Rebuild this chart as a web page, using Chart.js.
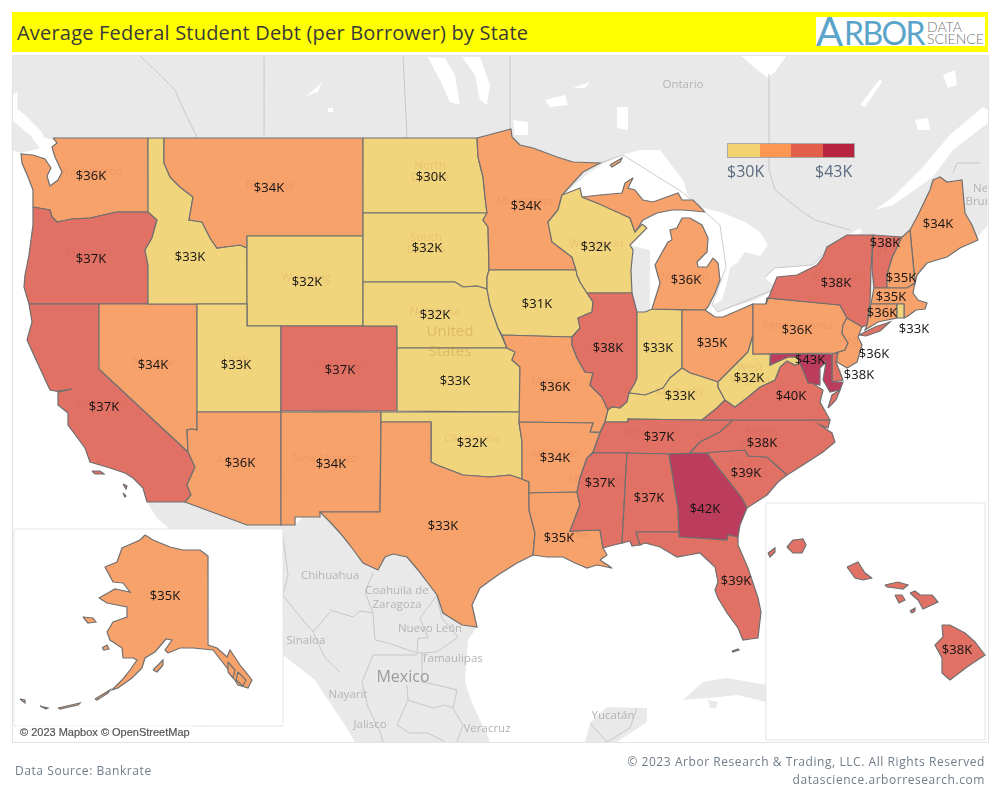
<!DOCTYPE html>
<html>
<head>
<meta charset="utf-8">
<title>Average Federal Student Debt (per Borrower) by State</title>
<script src="https://cdn.jsdelivr.net/npm/chart.js@4/dist/chart.umd.min.js"></script>
<style>
  html, body { margin: 0; padding: 0; background: #fff; }
  #page { position: relative; width: 1000px; height: 800px; overflow: hidden; font-family: "Open Sans", sans-serif; }
  #page div, #page span { position: absolute; white-space: nowrap; }
  #map { position: absolute; left: 0; top: 0; width: 1000px; height: 800px; }
  #titleBar { left: 12px; top: 12px; width: 976px; height: 40px; background: #ffff00; }
  #title { left: 17px; top: 19px; font-size: 20px; line-height: 28px; color: #3a3a3a; letter-spacing: 0.2px; }
  #logo { left: 816px; top: 17px; width: 169px; height: 29px; background: #fff; overflow: hidden; font-family: Lato, sans-serif; }
  #frame { left: 12px; top: 55px; width: 975px; height: 686px; border: 1px solid #e4e4e4; }
  #legend { left: 727px; top: 143px; width: 126px; height: 13px; border: 1px solid #a9a9a9; }
  .legendText { top: 160px; font-size: 16px; line-height: 22px; color: #5d6c80; }
  #attribution { left: 16px; top: 725px; width: 177px; height: 15px; background: rgba(255,255,255,0.6); font: 11px/15px "Liberation Sans", sans-serif; color: #555; text-indent: 4px; -webkit-text-stroke: 0.2px #555; }
  .foot { font-size: 12px; line-height: 18px; color: #6f7c89; letter-spacing: 0.56px; }
</style>
</head>
<body>
<div id="page">
  <canvas id="map" width="1000" height="800"></canvas>
  <div id="titleBar"></div>
  <div id="title">Average Federal Student Debt (per Borrower) by State</div>
  <div id="logo">
    <span style="left:0px;top:-9px;font-size:40px;line-height:46px;color:#5ba4c9">A</span>
    <span style="left:28px;top:-3px;font-size:32px;line-height:38px;color:#5ba4c9;letter-spacing:-1.6px">RBOR</span>
    <span style="left:111px;top:3px;font-size:14px;line-height:13px;color:#777;font-weight:300">DATA</span>
    <span style="left:111px;top:15px;font-size:14px;line-height:13px;color:#777;font-weight:300">SCIENCE</span>
  </div>
  <div id="frame"></div>
  <div id="legend"></div>
  <div class="legendText" id="legendMin" style="left:727px"></div>
  <div class="legendText" id="legendMax" style="left:815px"></div>
  <div id="attribution">© 2023 Mapbox © OpenStreetMap</div>
  <div class="foot" style="left:15px;top:762px">Data Source: Bankrate</div>
  <div class="foot" style="right:15px;top:753px">© 2023 Arbor Research &amp; Trading, LLC. All Rights Reserved</div>
  <div class="foot" style="right:15px;top:771px">datascience.arborresearch.com</div>
</div>

<script>
// Debt per borrower
var stateNames = ["WA","OR","CA","NV","ID","MT","WY","UT","AZ","CO","NM","ND","SD","NE","KS","OK","TX","MN","IA","MO","AR","LA","WI","IL","IN","MI","OH","KY","TN","MS","AL","GA","FL","SC","NC","VA","WV","PA","NY","ME","VT","NH","MA","CT","RI","NJ","DE","MD","HI","AK"];
var stateDebt = [36000,37000,37000,34000,33000,34000,32000,33000,36000,37000,34000,30000,32000,32000,33000,32000,33400,34000,31000,36000,34000,35000,32000,38000,33000,36000,35000,33000,37000,37000,37000,42000,39000,39000,38000,39600,32000,36000,38000,34000,38000,35000,35000,36000,33000,36000,38000,43000,38000,35000];
var labelX = [91,91,104,153,190,269,307,236,240,340,331,431,427,435,455,472,443,526,537,555,555,559,596,608,658,686,712,680,659,600,649,705,736,746,762,791,749,797,836,938,885,901,891,882,914,874,859,810,957,165];
var labelY = [176,259,407,365,257,188,282,365,463,370,464,177,248,315,381,443,526,206,304,387,458,538,247,348,348,280,343,396,437,483,498,509,581,473,443,396,378,330,283,224,243,278,297,313,329,354,375,360,650,596];

// Colour steps, same as the legend range
var debtMin = 30000;
var debtMax = 43000;
var stepFill = ["#F1D57D","#F8A26B","#E17164","#BC3C5D"];
var legendFill = ["#F3D270","#FB9653","#E25F4B","#B8233F"];

// Outlines in map units (the map is 1000 x 800 units)
var outlines = {
  WA: [[[53,138],[148,138],[148,212],[117,212],[90,218],[72,219],[57,222],[52,217],[50,210],[33,207],[33,190],[28,177],[22,163],[21,154],[33,155],[45,159],[51,168],[47,176],[50,186],[58,180],[62,172],[55,157],[52,147],[57,143]]],
  OR: [[[33,207],[50,210],[52,217],[57,222],[72,219],[90,218],[117,212],[148,212],[157,220],[152,238],[145,250],[148,265],[148,304],[29,304],[24,287],[25,275],[29,255],[33,225]]],
  CA: [[[29,304],[99,304],[99,369],[188,452],[195,467],[187,485],[191,495],[185,502],[147,502],[143,488],[133,478],[125,473],[110,468],[90,462],[85,448],[68,425],[68,413],[58,405],[58,391],[72,389],[60,392],[50,390],[37,362],[27,340],[32,322]],[[92,471],[100,471],[104,474],[95,474]],[[123,484],[127,486],[126,489]],[[123,493],[126,496],[125,497]]],
  NV: [[[99,304],[197,304],[197,430],[192,429],[187,430],[188,452],[99,369]]],
  ID: [[[148,138],[164,138],[164,163],[170,177],[180,187],[193,197],[189,220],[202,222],[210,238],[217,248],[240,245],[247,248],[247,304],[148,304],[148,265],[145,250],[152,238],[157,220],[148,212]]],
  MT: [[[164,138],[363,138],[363,236],[247,236],[247,248],[240,245],[217,248],[210,238],[202,222],[189,220],[193,197],[180,187],[170,177],[164,163]]],
  WY: [[[247,236],[363,236],[363,326],[247,326]]],
  UT: [[[197,304],[247,304],[247,326],[281,326],[281,412],[197,412]]],
  AZ: [[[197,412],[281,412],[281,525],[247,525],[185,502],[191,495],[187,485],[195,467],[188,452],[187,430],[192,429],[197,430]]],
  CO: [[[281,326],[397,326],[397,411],[281,411]]],
  NM: [[[281,412],[381,412],[381,422],[380,512],[320,512],[320,517],[295,517],[295,525],[281,525]]],
  ND: [[[363,138],[477,138],[478,157],[483,177],[485,197],[487,213],[363,213]]],
  SD: [[[363,213],[487,213],[483,220],[488,227],[489,270],[487,277],[487,289],[477,286],[463,287],[455,282],[363,282]]],
  NE: [[[363,282],[455,282],[463,287],[477,286],[487,289],[490,305],[498,328],[507,348],[397,348],[397,326],[363,326]]],
  KS: [[[397,348],[507,348],[515,352],[512,360],[520,367],[520,412],[397,411]]],
  OK: [[[381,412],[520,412],[519,422],[522,442],[522,479],[510,475],[490,477],[463,475],[437,465],[431,462],[431,422],[381,422]]],
  TX: [[[381,422],[431,422],[431,462],[437,465],[463,475],[490,477],[510,475],[522,479],[529,482],[529,510],[535,533],[533,555],[517,563],[498,575],[480,588],[472,605],[477,627],[462,625],[443,613],[437,595],[418,570],[407,557],[393,554],[385,557],[378,570],[363,563],[352,548],[340,533],[330,522],[320,512],[380,512]]],
  MN: [[[477,138],[511,129],[512,137],[520,145],[533,148],[557,157],[573,162],[600,163],[583,172],[562,195],[558,210],[548,222],[552,242],[572,257],[576,270],[489,270],[488,227],[483,220],[487,213],[485,197],[483,177],[478,157]]],
  IA: [[[489,270],[576,270],[577,275],[580,282],[587,293],[593,302],[592,312],[578,318],[580,328],[572,337],[502,335],[498,328],[490,305],[487,289],[487,277]]],
  MO: [[[502,335],[572,337],[572,345],[577,358],[585,372],[593,373],[590,385],[602,397],[608,410],[605,422],[600,432],[590,432],[593,423],[519,422],[520,367],[512,360],[515,352],[507,348]]],
  AR: [[[519,422],[593,423],[590,432],[600,433],[593,452],[587,458],[580,478],[577,492],[529,493],[529,482],[522,479],[522,442]]],
  LA: [[[529,493],[577,492],[580,505],[570,531],[600,530],[603,548],[607,555],[600,560],[612,568],[597,565],[587,568],[575,563],[563,557],[547,557],[533,555],[535,533],[529,510]]],
  WI: [[[562,195],[580,188],[582,197],[597,203],[620,212],[630,218],[635,232],[642,224],[647,228],[630,245],[633,250],[631,270],[632,293],[587,293],[580,282],[577,275],[576,270],[572,257],[552,242],[548,222],[558,210]]],
  IL: [[[587,293],[632,293],[637,312],[637,378],[635,383],[629,393],[627,402],[620,408],[612,407],[608,410],[602,397],[590,385],[593,373],[585,372],[577,358],[572,345],[572,337],[580,328],[578,318],[592,312],[593,302]]],
  IN: [[[637,312],[645,312],[652,309],[682,310],[682,368],[670,378],[663,388],[653,392],[645,395],[629,393],[635,383],[637,378]]],
  MI: [[[652,309],[705,310],[708,307],[715,293],[720,280],[718,263],[713,258],[707,267],[698,267],[697,262],[707,252],[708,238],[702,225],[690,218],[682,218],[677,228],[670,230],[672,240],[668,242],[655,265],[660,283]],[[582,197],[600,195],[622,193],[625,183],[633,178],[628,188],[635,190],[643,200],[653,202],[678,193],[682,200],[693,200],[705,212],[683,210],[672,210],[657,213],[643,220],[635,232],[630,218],[597,203]],[[610,165],[622,158],[620,162],[612,167]]],
  OH: [[[682,310],[705,310],[715,317],[723,317],[753,304],[753,335],[748,352],[732,368],[718,382],[703,377],[690,373],[682,368]]],
  KY: [[[608,410],[612,407],[620,408],[627,402],[629,393],[645,395],[653,392],[663,388],[670,378],[682,368],[690,373],[703,377],[718,382],[718,387],[725,400],[717,408],[702,420],[628,419],[628,422],[605,422]]],
  TN: [[[605,422],[628,422],[628,419],[702,420],[733,420],[733,423],[720,432],[700,442],[690,453],[669,454],[627,453],[593,453],[600,433]]],
  MS: [[[593,453],[627,453],[622,543],[610,546],[603,548],[600,530],[570,531],[580,505],[577,492],[580,478],[587,458]]],
  AL: [[[627,453],[669,454],[678,508],[679,532],[636,532],[640,545],[632,546],[630,541],[622,543]]],
  GA: [[[669,454],[707,453],[720,470],[732,485],[742,498],[747,508],[740,525],[738,537],[728,535],[727,540],[679,537],[678,508]]],
  FL: [[[636,532],[679,532],[679,537],[727,540],[728,535],[738,537],[738,545],[748,568],[758,598],[761,612],[758,638],[743,640],[738,628],[727,613],[718,598],[715,590],[718,582],[715,567],[700,553],[677,557],[660,547],[645,543],[640,545]],[[732,651],[738,649],[739,650],[733,652]]],
  SC: [[[707,453],[713,452],[745,450],[748,456],[767,457],[787,475],[778,482],[767,495],[747,508],[742,498],[732,485],[720,470]]],
  NC: [[[733,420],[830,420],[828,428],[820,425],[832,433],[835,442],[823,452],[803,465],[787,475],[767,457],[748,456],[745,450],[713,452],[705,453],[690,453],[700,442],[720,432]]],
  VA: [[[795,365],[800,363],[803,370],[817,378],[815,385],[823,390],[820,402],[830,420],[702,420],[717,408],[725,400],[735,407],[748,397],[760,387],[775,380],[780,367],[787,361]],[[828,408],[832,395],[840,390],[836,400]]],
  WV: [[[753,335],[753,354],[770,354],[770,365],[788,357],[797,357],[800,363],[795,365],[787,361],[780,367],[775,380],[760,387],[748,397],[735,407],[725,400],[718,387],[718,382],[732,368],[748,352]]],
  PA: [[[753,304],[766,304],[767,298],[840,305],[847,318],[843,325],[842,333],[848,343],[845,350],[835,353],[753,354]]],
  NY: [[[766,304],[777,277],[797,275],[817,265],[823,257],[827,247],[847,235],[873,235],[871,268],[870,303],[867,325],[862,327],[847,318],[840,305],[767,298]],[[859,335],[875,327],[890,322],[880,331],[866,336]]],
  ME: [[[910,230],[918,215],[930,190],[933,180],[940,177],[947,182],[962,180],[965,213],[972,225],[978,240],[960,248],[947,257],[927,263],[917,275],[915,283]]],
  VT: [[[873,235],[902,237],[892,258],[887,275],[887,288],[874,288],[872,268]]],
  NH: [[[902,237],[910,230],[915,283],[907,288],[887,288],[887,275],[892,258]]],
  MA: [[[874,288],[887,288],[907,288],[915,283],[913,293],[918,300],[927,303],[925,309],[916,310],[908,316],[904,318],[904,304],[871,304]]],
  CT: [[[871,304],[897,304],[897,318],[878,322],[865,330],[867,325]]],
  RI: [[[897,304],[904,304],[904,318],[897,318]]],
  NJ: [[[847,318],[862,327],[858,337],[862,345],[857,362],[847,368],[837,362],[836,353],[845,350],[848,343],[842,333],[843,325]]],
  DE: [[[832,354],[838,353],[836,362],[843,380],[832,382]]],
  MD: [[[771,354],[832,354],[832,382],[843,382],[840,390],[830,392],[823,380],[826,362],[820,368],[820,385],[808,383],[803,370],[800,363],[797,357],[788,357],[770,365]]],
  HI: [[[787,547],[793,540],[803,539],[806,545],[802,553],[793,553]],[[768,553],[775,548],[775,552],[770,557]],[[847,567],[858,562],[865,573],[872,578],[863,580],[855,578]],[[885,585],[898,582],[908,585],[903,589],[887,587]],[[895,595],[902,595],[905,600],[899,603]],[[910,593],[915,591],[920,595],[932,595],[938,602],[923,609],[918,600]],[[910,611],[915,608],[915,611],[912,613]],[[942,625],[950,625],[965,633],[975,642],[985,655],[967,667],[950,680],[942,673],[942,658],[935,645],[943,637]]],
  AK: [[[145,535],[153,540],[170,547],[183,550],[200,550],[208,556],[208,645],[217,648],[227,657],[230,650],[240,665],[252,680],[248,688],[238,685],[227,668],[213,650],[193,648],[180,648],[168,653],[165,650],[172,640],[166,639],[155,652],[145,658],[142,668],[132,678],[118,688],[112,690],[122,680],[130,670],[137,660],[133,658],[123,658],[122,648],[110,640],[107,632],[113,622],[127,617],[127,607],[107,603],[99,598],[115,589],[130,592],[123,583],[113,582],[105,567],[117,562],[122,548],[140,540]],[[153,670],[163,660],[163,665],[157,672]],[[83,617],[93,618],[96,622],[88,623]],[[102,648],[107,645],[109,649],[104,650]],[[95,699],[110,690],[108,693],[97,700]],[[58,708],[80,703],[78,705],[60,709]],[[40,706],[48,708],[46,709]],[[20,699],[25,700],[25,703]],[[228,662],[235,670],[233,678],[228,672]],[[238,672],[246,680],[243,686],[236,680]]]
};

// Base map: land, water, boundaries, inset boxes
var landShapes = [
  [[12,55],[988,55],[988,225],[975,240],[930,255],[900,290],[700,350],[300,300],[148,150],[57,139],[45,147],[21,153],[12,150]],
  [[147,502],[185,502],[247,525],[295,525],[320,500],[400,540],[450,590],[462,625],[477,627],[468,640],[465,682],[473,705],[485,730],[490,742],[355,742],[345,725],[328,700],[315,680],[283,655],[240,600],[173,532],[157,518]],
  [[590,723],[607,707],[647,708],[647,722],[617,742],[585,742]],
  [[683,700],[703,682],[727,678],[767,685],[767,702],[737,695],[720,697]],
  [[708,700],[718,702],[716,708],[710,708]]
];
var waterShapes = [
  [[562,196],[590,172],[605,163],[622,155],[640,150],[660,150],[683,180],[688,195],[693,205],[723,213],[745,222],[760,232],[768,245],[760,256],[745,252],[738,262],[730,268],[727,283],[722,300],[713,305],[717,312],[755,300],[780,287],[780,300],[760,315],[700,325],[650,320],[650,250],[565,230]],
  [[765,278],[775,268],[813,265],[822,257],[830,250],[833,257],[780,290]],
  [[983,107],[988,110],[988,123],[953,150],[933,177],[893,205],[875,210],[893,197],[923,167],[950,135]],
  [[836,243],[860,228],[862,232],[840,247]],
  [[12,105],[25,115],[40,130],[45,138],[55,140],[55,160],[42,155],[30,152],[40,148],[30,135],[12,120]],
  [[12,95],[18,92],[17,110],[12,110]],
  [[740,55],[787,55],[775,72],[768,78],[755,68]],
  [[428,57],[445,58],[455,75],[460,105],[450,102],[440,80]],
  [[462,57],[480,57],[490,85],[487,105],[480,100],[475,75]],
  [[617,107],[628,107],[628,130],[617,128]],
  [[545,100],[565,95],[568,105],[550,107]],
  [[573,88],[590,82],[585,88]],
  [[513,120],[528,122],[528,135],[515,135]],
  [[860,105],[880,79],[882,82],[865,107]],
  [[943,75],[955,70],[957,85],[948,88]],
  [[915,120],[928,118],[930,130],[918,130]],
  [[322,82],[318,92],[306,96],[316,88]],
  [[328,108],[333,108],[333,112],[328,112]]
];
var boundaryLines = [
  [[140,56],[155,70],[175,90],[186,115],[197,137]],
  [[264,55],[264,137]],
  [[403,55],[407,137]],
  [[510,55],[510,130]],
  [[769,74],[769,170],[775,190],[800,210],[815,220],[850,230]],
  [[600,163],[623,155],[682,192],[720,225],[726,267],[712,305],[718,312],[780,287]],
  [[765,277],[775,268],[813,265],[822,255]],
  [[953,173],[957,163],[980,163]],
  [[373,573],[365,592],[373,613],[375,640],[388,643],[417,653],[418,638],[428,638],[420,618],[437,595]],
  [[437,597],[442,618],[458,637],[437,652],[417,653]],
  [[330,610],[353,617],[360,611],[373,613]],
  [[422,655],[422,682],[437,685],[457,690],[453,708],[463,725],[457,742]],
  [[417,655],[373,655],[362,682],[368,707],[380,732],[383,742]],
  [[407,685],[408,700],[397,725],[410,733],[428,733],[445,742]],
  [[408,700],[433,708],[445,705],[453,708]],
  [[283,535],[288,575],[283,595],[293,608],[313,632],[330,612]],
  [[313,632],[325,658],[340,672]],
  [[590,723],[607,742],[630,728],[637,708]]
];
var insetBoxes = [
  [[14,529],[283,529],[283,726],[14,726],[14,529]],
  [[766,503],[985,503],[985,740],[766,740],[766,503]]
];

// Faint names printed by the base map
var baseNames = ["Ontario","Chihuahua","Coahuila de","Zaragoza","Nuevo León","Tamaulipas","Sinaloa","Nayarit","Jalisco","Veracruz","Yucatán","New","Brunswick"];
var baseNameX = [683,330,397,397,430,452,306,348,370,487,613,985,993];
var baseNameY = [85,576,591,605,629,659,641,695,725,729,716,189,202];
var stateTags = ["Washington","Oregon","California","Nevada","Montana","Wyoming","Utah","Colorado","Arizona","New Mexico","North","Dakota","South","Dakota","Nebraska","Oklahoma","Arkansas","Missouri","Minnesota","Wisconsin","Michigan","Illinois","Mississippi","Tennessee","Pennsylvania","West","Virginia","Kentucky","New York","North","Carolina","South","Carolina","Georgia","Louisiana","NJ","DE","VT","CT"];
var stateTagX = [91,87,103,153,270,306,236,340,237,325,430,430,426,426,435,472,555,554,525,596,685,603,597,650,797,750,750,680,837,762,762,745,745,705,563,853,838,882,883];
var stateTagY = [172,255,403,362,185,278,360,367,460,459,166,178,238,250,312,439,454,382,202,244,277,347,480,433,326,368,380,392,278,433,445,463,475,507,535,342,373,253,308];

function bucketColor(value, palette) {
  var step = (debtMax - debtMin) / palette.length;
  var i = Math.floor((value - debtMin) / step);
  return palette[Math.max(0, Math.min(palette.length - 1, i))];
}

function money(value) {
  return "$" + Math.round(value / 1000) + "K";
}

function ring(points, fill, line, width) {
  var closed = points.concat([points[0]]);
  return {
    data: closed.map(function (p) { return { x: p[0], y: p[1] }; }),
    showLine: true,
    fill: fill ? "shape" : false,
    backgroundColor: fill || "transparent",
    borderColor: line || "transparent",
    borderWidth: width,
    tension: 0.001,
    pointRadius: 0,
    pointHoverRadius: 0,
  };
}

function openLine(points, line, width) {
  return {
    data: points.map(function (p) { return { x: p[0], y: p[1] }; }),
    showLine: true,
    fill: false,
    borderColor: line,
    borderWidth: width,
    tension: 0.001,
    pointRadius: 0,
    pointHoverRadius: 0,
  };
}

// Painting order, the list gets reversed below because Chart.js draws the first dataset last
var layers = [];
landShapes.forEach(function (s) { layers.push(ring(s, "#e9e9e9", null, 0)); });
waterShapes.forEach(function (s) { layers.push(ring(s, "#ffffff", null, 0)); });
boundaryLines.forEach(function (s) { layers.push(openLine(s, "#bcbcbc", 0.8)); });
insetBoxes.forEach(function (s) { layers.push(ring(s, "#ffffff", "#e4e4e4", 1)); });
stateNames.forEach(function (name, i) {
  outlines[name].forEach(function (s) {
    layers.push(ring(s, bucketColor(stateDebt[i], stepFill), "#6f6f6f", 1.2));
  });
});

var mapLabels = {
  id: "mapLabels",
  afterDatasetsDraw: function (chart) {
    var ctx = chart.ctx;
    var x = chart.scales.x;
    var y = chart.scales.y;
    ctx.save();
    ctx.beginPath();
    ctx.rect(13, 56, 974, 685);
    ctx.clip();
    ctx.textAlign = "center";
    ctx.textBaseline = "middle";

    ctx.font = '11.5px "Open Sans"';
    ctx.fillStyle = "#b4b4b4";
    baseNames.forEach(function (t, i) {
      ctx.fillText(t, x.getPixelForValue(baseNameX[i]), y.getPixelForValue(baseNameY[i]));
    });
    ctx.font = '16px "Open Sans"';
    ctx.fillStyle = "#9b9b9b";
    ctx.fillText("Mexico", x.getPixelForValue(403), y.getPixelForValue(677));

    ctx.font = '11.5px "Open Sans"';
    ctx.fillStyle = "rgba(190,90,60,0.15)";
    stateTags.forEach(function (t, i) {
      ctx.fillText(t, x.getPixelForValue(stateTagX[i]), y.getPixelForValue(stateTagY[i]));
    });
    ctx.font = '15px "Open Sans"';
    ctx.fillStyle = "rgba(170,130,40,0.3)";
    ctx.fillText("United", x.getPixelForValue(450), y.getPixelForValue(332));
    ctx.fillText("States", x.getPixelForValue(450), y.getPixelForValue(352));

    ctx.font = '13px "Open Sans"';
    ctx.fillStyle = "#111";
    stateDebt.forEach(function (v, i) {
      ctx.fillText(money(v), x.getPixelForValue(labelX[i]), y.getPixelForValue(labelY[i]));
    });
    ctx.restore();
  },
};

new Chart(document.getElementById("map").getContext("2d"), {
  type: "scatter",
  data: { datasets: layers.reverse() },
  options: {
    responsive: false,
    animation: false,
    events: [],
    devicePixelRatio: 1,
    layout: { padding: 0 },
    scales: {
      x: { type: "linear", min: 0, max: 1000, display: false },
      y: { type: "linear", min: 0, max: 800, reverse: true, display: false },
    },
    plugins: {
      legend: { display: false },
      tooltip: { enabled: false },
    },
  },
  plugins: [mapLabels],
});

// Legend, four equal steps between the min and max debt
var legend = document.getElementById("legend");
legendFill.forEach(function (c, i) {
  var s = document.createElement("span");
  s.style.cssText = "left:" + (i * 25) + "%;top:0;width:25%;height:100%;background:" + c;
  legend.appendChild(s);
});
document.getElementById("legendMin").textContent = money(debtMin);
document.getElementById("legendMax").textContent = money(debtMax);
</script>
</body>
</html>
